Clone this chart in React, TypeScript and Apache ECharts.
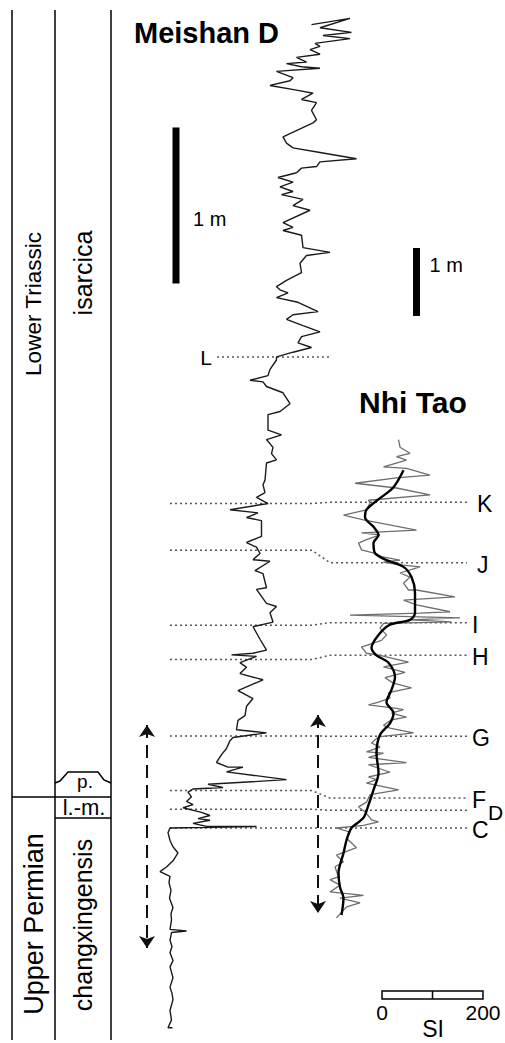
import React, { useEffect, useRef } from "react";
import * as echarts from "echarts";

// Meishan D magnetic susceptibility: [SI, height above boundary C in cm]
const meishanPoints: number[][] = [
  [363,515],[440,519],[380,513],[443,510],[386,508],[440,506],[370,503],[380,501],[360,499],[380,496],
  [333,494],[353,491],[313,490],[343,488],[380,487],[293,485],[326,481],[320,479],[280,476],[333,473],
  [366,471],[343,467],[373,465],[363,460],[373,454],[366,452],[306,443],[313,439],[326,436],[380,433],
  [453,429],[380,427],[373,424],[343,423],[333,420],[296,417],[326,414],[300,411],[326,408],[303,406],
  [346,403],[326,399],[360,396],[306,388],[326,385],[306,383],[343,380],[346,372],[400,369],[353,367],
  [340,362],[343,356],[313,351],[293,347],[300,345],[316,343],[293,340],[336,337],[376,331],[326,329],
  [313,326],[346,322],[380,318],[343,315],[336,311],[363,308],[326,305],[293,302],[293,300],[280,294],
  [276,290],[240,287],[266,286],[273,283],[306,279],[320,272],[300,267],[276,265],[276,255],[303,252],
  [273,249],[286,244],[283,240],[293,236],[273,234],[270,223],[266,220],[270,215],[253,212],[276,208],
  [200,204],[256,202],[233,199],[263,197],[263,187],[233,183],[253,180],[260,176],[246,172],[280,171],
  [250,165],[266,163],[273,154],[253,153],[273,144],[293,142],[280,138],[286,132],[246,129],[253,125],
  [260,121],[273,114],[246,112],[203,111],[253,110],[220,106],[233,103],[220,99],[266,95],[216,88],
  [246,83],[233,78],[230,72],[216,69],[213,63],[273,61],[206,58],[200,56],[193,51],[183,47],
  [173,42],[196,39],[226,39],[193,36],[313,31],[156,28],[186,26],[126,25],[116,23],[123,20],
  [113,17],[126,15],[106,13],[143,10],[160,8],[136,6],[160,5],[126,3],[153,1],[253,1],
  [80,0],[76,-3],[80,-8],[86,-12],[96,-16],[86,-21],[73,-25],[60,-28],[80,-31],[78,-35],
  [82,-40],[79,-45],[86,-51],[82,-55],[83,-59],[80,-65],[113,-66],[83,-67],[80,-72],[84,-76],
  [80,-80],[86,-85],[80,-89],[86,-96],[80,-102],[84,-106],[86,-110],[80,-117],[83,-123],[76,-128],[85,-128]
];

// Nhi Tao raw susceptibility: [SI, height in cm]
const nhiTaoRaw: number[][] = [
  [197,571],[200,560],[220,551],[193,546],[213,541],[167,531],[213,529],[260,519],[193,515],[110,507],
  [193,500],[260,490],[137,482],[140,478],[133,468],[87,460],[127,453],[233,438],[123,434],[160,431],
  [133,424],[117,419],[123,409],[150,404],[163,399],[200,394],[167,391],[200,387],[240,384],[200,375],
  [220,369],[207,360],[217,350],[233,350],[310,340],[207,335],[233,328],[300,318],[240,316],[100,313],
  [320,309],[220,306],[303,303],[167,301],[160,294],[173,284],[163,276],[123,266],[133,257],[160,254],
  [217,244],[167,237],[210,229],[170,221],[187,213],[223,206],[177,199],[180,191],[157,185],[137,181],
  [193,176],[207,174],[183,169],[213,163],[183,159],[167,151],[180,147],[227,140],[157,134],[143,125],
  [160,119],[133,112],[167,110],[137,104],[213,96],[137,93],[180,82],[137,75],[153,71],[133,66],
  [197,56],[140,49],[133,38],[117,31],[130,24],[143,12],[157,9],[127,4],[73,0],[100,-6],
  [93,-15],[113,-29],[73,-40],[87,-50],[70,-57],[77,-72],[60,-76],[80,-84],[60,-94],[127,-99],
  [80,-103],[120,-110],[93,-116],[83,-124],[73,-132]
];

// Nhi Tao smoothed curve: [SI, height in cm]
const nhiTaoSmooth: number[][] = [
  [207,526],[187,501],[160,485],[133,468],[130,457],[147,443],[157,431],[147,419],[150,404],[173,394],
  [207,384],[223,369],[230,346],[230,316],[220,306],[180,299],[157,284],[143,265],[153,254],[177,243],
  [190,222],[183,203],[173,185],[187,169],[180,154],[160,137],[153,110],[157,81],[147,56],[137,34],
  [127,15],[103,0],[93,-18],[87,-37],[77,-66],[80,-87],[87,-103],[83,-128]
];

// Correlation horizons
const horizonNames = ["K", "J", "I", "H", "G", "F", "D", "C"];
const horizonMeishanCm = [208, 178, 130, 108, 59, 24, 12, 0];
const horizonNhiTaoCm = [479, 390, 302, 254, 135, 44, 26, 0];
const horizonLMeishanCm = 302;

// Scale bars (1 m) and range arrows
const meishanBar = [[92, 349], [92, 449]];
const nhiTaoBar = [[233, 753], [233, 853]];
const meishanArrow = [[34, 66], [34, -77]];
const nhiTaoArrow = [[36, 166], [36, -125]];

// SI scale labels
const siTicks = ["0", "200"];

const FONT = "'Liberation Sans', Arial, Helvetica, sans-serif";

export default function App() {
  const ref = useRef<HTMLDivElement>(null);
  useEffect(() => {
    const chart = echarts.init(ref.current!, null, { renderer: "svg" });
    const arrowMark = (pts: number[][]) => ({
      silent: true,
      symbol: ["arrow", "arrow"],
      symbolSize: 12,
      label: { show: false },
      emphasis: { disabled: true },
      lineStyle: { color: "#111", width: 2, type: [13, 7] },
      data: [[{ coord: pts[0] }, { coord: pts[1] }]],
    });
    chart.setOption({
      animation: false,
      grid: [
        { left: 130, top: 9, width: 250, height: 1021.8 },
        { left: 300, top: 236.4, width: 200, height: 686.8 },
      ],
      xAxis: [
        { type: "value", gridIndex: 0, min: 0, max: 500, show: false },
        { type: "value", gridIndex: 1, min: 0, max: 400, show: false },
      ],
      yAxis: [
        { type: "value", gridIndex: 0, min: -130, max: 525, show: false },
        { type: "value", gridIndex: 1, min: -140, max: 870, show: false },
      ],
      series: [
        {
          type: "line", xAxisIndex: 0, yAxisIndex: 0, data: meishanPoints,
          showSymbol: false, symbol: "none", clip: false, silent: true,
          lineStyle: { color: "#1a1a1a", width: 1.4 },
        },
        {
          type: "line", xAxisIndex: 0, yAxisIndex: 0, data: meishanBar,
          symbol: "none", silent: true, lineStyle: { color: "#000", width: 7 },
          markLine: arrowMark(meishanArrow),
        },
        {
          type: "line", xAxisIndex: 1, yAxisIndex: 1, data: nhiTaoRaw,
          symbol: "none", clip: false, silent: true,
          lineStyle: { color: "#6e6e6e", width: 1.3 },
        },
        {
          type: "line", xAxisIndex: 1, yAxisIndex: 1, data: nhiTaoSmooth,
          symbol: "none", smooth: 0.3, clip: false, silent: true,
          lineStyle: { color: "#000", width: 2.4 },
        },
        {
          type: "line", xAxisIndex: 1, yAxisIndex: 1, data: nhiTaoBar,
          symbol: "none", silent: true, lineStyle: { color: "#000", width: 7 },
          markLine: arrowMark(nhiTaoArrow),
        },
      ],
    });

    const px = (g: number, x: number, y: number) =>
      chart.convertToPixel({ gridIndex: g }, [x, y]) as number[];
    const dotted = { stroke: "#555", lineWidth: 1.5, lineDash: [2, 3] };
    const txt = (text: string, x: number, y: number, size: number, opts: any = {}) => ({
      type: "text", x, y, rotation: opts.rot || 0, silent: true,
      style: {
        text, fill: "#000",
        font: `${opts.bold ? "bold " : ""}${size}px ${FONT}`,
        textAlign: opts.align || "center", textVerticalAlign: "middle",
      },
    });
    const line = (x1: number, y1: number, x2: number, y2: number, w = 1.5) => ({
      type: "line", silent: true, shape: { x1, y1, x2, y2 }, style: { stroke: "#000", lineWidth: w },
    });

    const els: any[] = [];
    // stratigraphic columns
    [12, 55, 111].forEach((x) => els.push(line(x, 10, x, 1040)));
    els.push(line(12, 797, 55, 797));
    els.push(line(55, 797, 111, 797));
    els.push(line(55, 818, 111, 818));
    els.push({
      type: "polyline", silent: true,
      shape: { points: [[55, 783], [60, 781], [68, 772], [98, 772], [104, 780], [111, 783]] },
      style: { stroke: "#000", lineWidth: 1.5, fill: null },
    });
    els.push(txt("Lower Triassic", 33, 304, 22.5, { rot: Math.PI / 2 }));
    els.push(txt("isarcica", 83, 273, 25, { rot: Math.PI / 2 }));
    els.push(txt("Upper Permian", 34, 924, 27, { rot: Math.PI / 2 }));
    els.push(txt("changxingensis", 83, 925, 25, { rot: Math.PI / 2 }));
    els.push(txt("p.", 85, 781, 19));
    els.push(txt("l.-m.", 84, 807, 22));

    // titles
    els.push(txt("Meishan D", 134, 33, 29, { bold: true, align: "left" }));
    els.push(txt("Nhi Tao", 359, 402, 30, { bold: true, align: "left" }));

    // scale bar labels
    const mb = px(0, meishanBar[0][0], (meishanBar[0][1] + meishanBar[1][1]) / 2);
    els.push(txt("1 m", mb[0] + 17, mb[1] + 13, 20, { align: "left" }));
    const nb = px(1, nhiTaoBar[0][0], (nhiTaoBar[0][1] + nhiTaoBar[1][1]) / 2);
    els.push(txt("1 m", nb[0] + 13, nb[1] - 17, 20, { align: "left" }));

    // correlation lines
    horizonNames.forEach((name, i) => {
      const a = px(0, 80, horizonMeishanCm[i]);
      const b = px(0, 364, horizonMeishanCm[i]);
      const c = px(1, 60, horizonNhiTaoCm[i]);
      const d = px(1, 334, horizonNhiTaoCm[i]);
      els.push({ type: "polyline", silent: true, shape: { points: [a, b, c, d] }, style: { ...dotted, fill: null } });
      let dx = name === "K" || name === "J" ? 10 : 5;
      let dy = 2;
      let size = 23;
      if (name === "D") { dx = 21; dy = 2; size = 21; }
      els.push(txt(name, d[0] + dx, d[1] + dy, size, { align: "left" }));
    });
    const l1 = px(0, 174, horizonLMeishanCm);
    const l2 = px(0, 400, horizonLMeishanCm);
    els.push({ type: "line", silent: true, shape: { x1: l1[0], y1: l1[1], x2: l2[0], y2: l2[1] }, style: dotted });
    els.push(txt("L", l1[0] - 5, l1[1] + 1, 21, { align: "right" }));

    // SI scale
    els.push({ type: "rect", silent: true, shape: { x: 382, y: 991, width: 101, height: 8 }, style: { fill: "#fff", stroke: "#000", lineWidth: 1.5 } });
    els.push(line(432.5, 991, 432.5, 999, 1.5));
    els.push(txt(siTicks[0], 382, 1012, 21));
    els.push(txt(siTicks[1], 483, 1012, 21));
    els.push(txt("SI", 433, 1029, 23));

    chart.setOption({ graphic: els });
    return () => chart.dispose();
  }, []);
  return <div ref={ref} style={{ position: "absolute", left: 0, top: 0, width: 505, height: 1043, background: "#fff" }} />;
}
